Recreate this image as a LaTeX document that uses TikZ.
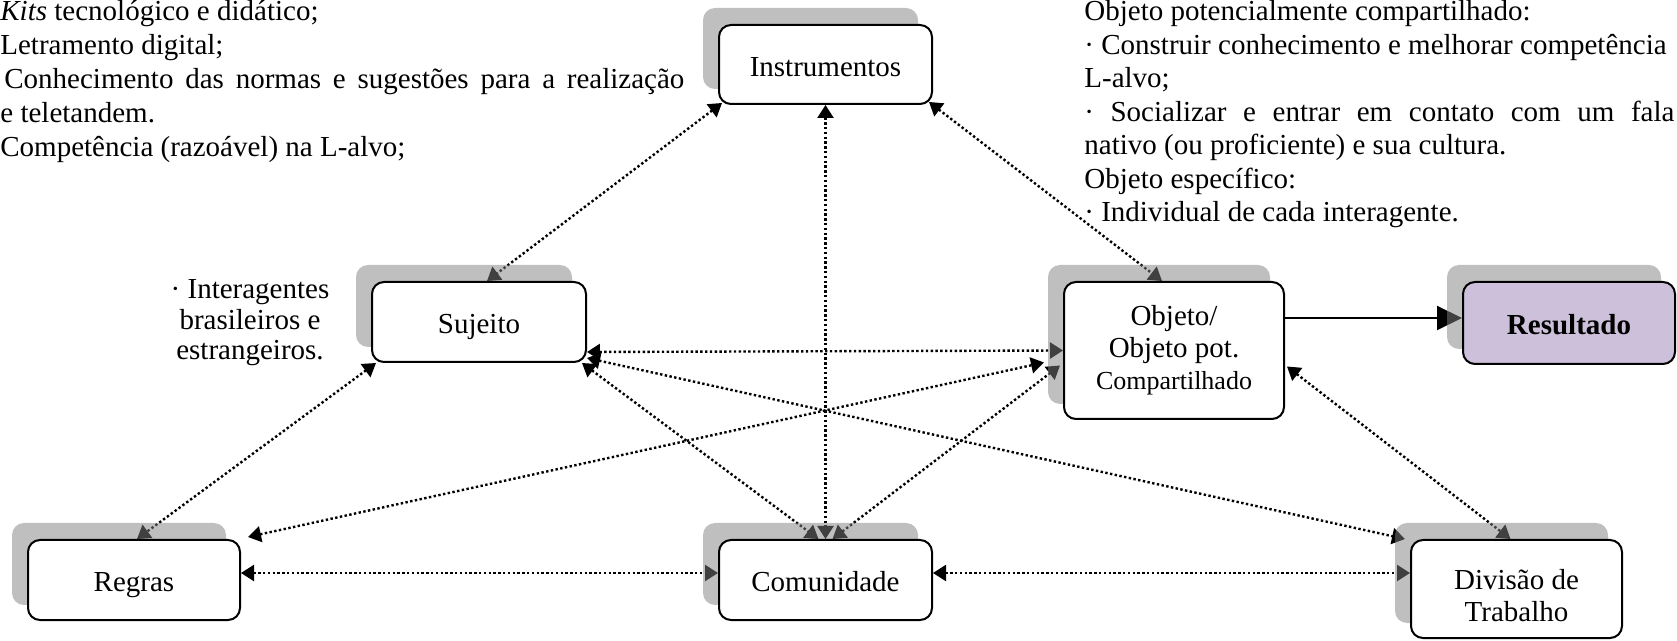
\documentclass[tikz,border=0pt]{standalone}
\usepackage{fontspec}
\setmainfont{Liberation Serif}
\usetikzlibrary{arrows.meta,calc}
\pgfdeclarelayer{conn}
\pgfdeclarelayer{shad}
\pgfsetlayers{conn,shad,main}
\definecolor{shadecol}{RGB}{128,128,128}
\definecolor{lav}{RGB}{204,192,218}
\tikzset{
  box/.style={draw=black, line width=1pt, rounded corners=6pt, fill=white, align=center, inner sep=0pt, font=\fontsize{14.5}{16}\selectfont},
  oneline/.style={text height=14pt, text depth=2pt},
  shadowbox/.style={fill=shadecol, fill opacity=0.5, rounded corners=6pt},
  link/.style={line width=1.2pt, dash pattern=on 1.2pt off 1.2pt, {Triangle[length=6.5pt,width=8pt]}-{Triangle[length=6.5pt,width=8pt]}},
  mainarrow/.style={line width=1pt, -{Triangle[length=12.5pt,width=12pt]}},
  txt/.style={inner sep=0pt, anchor=base west, font=\fontsize{14.5}{16}\selectfont},
  ctxt/.style={inner sep=0pt, anchor=base, font=\fontsize{14.5}{16}\selectfont},
}
\begin{document}
\begin{tikzpicture}[x=0.5pt,y=-0.5pt]
\useasboundingbox (0,0) rectangle (1677,641);
% boxes
\node[box, oneline, minimum width=106.5pt, minimum height=39.5pt] (ins) at (825.5,64.5) {Instrumentos};
\node[box, oneline, minimum width=107pt, minimum height=40pt] (suj) at (479,322) {Sujeito};
\node[box, minimum width=110pt, minimum height=68.5pt] (obj) at (1174,350.5) {Objeto/\\Objeto pot.\\{\fontsize{13}{16}\selectfont Compartilhado}};
\node[box, oneline, fill=lav, minimum width=106pt, minimum height=41pt, font=\fontsize{14.5}{16}\selectfont\bfseries] (res) at (1569,323) {Resultado};
\node[box, oneline, minimum width=106pt, minimum height=40pt] (reg) at (134,580) {Regras};
\node[box, oneline, minimum width=106.5pt, minimum height=40pt] (com) at (825.5,580) {Comunidade};
\node[box, minimum width=105.5pt, minimum height=49pt] (div) at (1516.5,589) {\rule{0pt}{16.5pt}Divisão de\\Trabalho};
% left text block
\node[txt] (t1) at (0,21) {\textit{Kits} tecnológico e didático;};
\node[txt] (t2) at (0,55) {Letramento digital;};
\node[txt] (t3) at (4,89) {\makebox[340pt][s]{Conhecimento das normas e sugestões para a realização}};
\node[txt] (t4) at (0,123) {e teletandem.};
\node[txt] (t5) at (0,157) {Competência (razoável) na L-alvo;};
% right text block
\node[txt] (r1) at (1084,21) {Objeto potencialmente compartilhado:};
\node[txt] (r2) at (1084,54.5) {· Construir conhecimento e melhorar competência};
\node[txt] (r3) at (1084,88) {L-alvo;};
\node[txt] (r4) at (1084,121.5) {\makebox[295pt][s]{· Socializar e entrar em contato com um fala}};
\node[txt] (r5) at (1084,155) {nativo (ou proficiente) e sua cultura.};
\node[txt] (r6) at (1084,188.5) {Objeto específico:};
\node[txt] (r7) at (1084,222) {· Individual de cada interagente.};
% subject annotation
\node[ctxt] (s1) at (250,299) {· Interagentes};
\node[ctxt] (s2) at (250,330) {brasileiros e};
\node[ctxt] (s3) at (250,360) {estrangeiros.};
% connectors
\begin{pgfonlayer}{conn}
\draw[link] ($(ins.south west)+(4,-2)$) -- ($(suj.north)+(8,0)$);
\draw[link] ($(ins.south east)+(-4,-3)$) -- ($(obj.north)+(-12,0)$);
\draw[link] (ins.south) -- (com.north);
\draw[link] ($(suj.south east)+(0,-11)$) -- (obj.west);
\draw[link] ($(suj.south east)+(0,-5)$) -- ($(div.north west)+(-5,0)$);
\draw[link] ($(suj.south east)+(-5,0)$) -- ($(com.north)+(-7,0)$);
\draw[link] ($(reg.north east)+(7,-2)$) -- ($(obj.west)+(-19,12)$);
\draw[link] ($(com.north)+(7,0)$) -- ($(obj.west)+(-3,15)$);
\draw[link] ($(suj.south west)+(5,0)$) -- ($(reg.north)+(3,0)$);
\draw[link] ($(reg.east)+(0,-7)$) -- ($(com.west)+(0,-7)$);
\draw[link] ($(com.east)+(0,-7)$) coordinate (c11) -- (c11 -| div.west);
\draw[link] ($(obj.east)+(2,16)$) -- ($(div.north)+(-6,0)$);
\draw[mainarrow] ($(res.west)+(0,-5)$) coordinate (c13) (c13 -| obj.east) -- (c13);
\end{pgfonlayer}
% shadows
\begin{pgfonlayer}{shad}
\foreach \n in {ins,suj,obj,res,reg,com,div} {
  \fill[shadowbox] ($(\n.south west)+(-15,-16)$) rectangle ($(\n.north east)+(-15,-16)$);
}
\end{pgfonlayer}
\end{tikzpicture}
\end{document}
